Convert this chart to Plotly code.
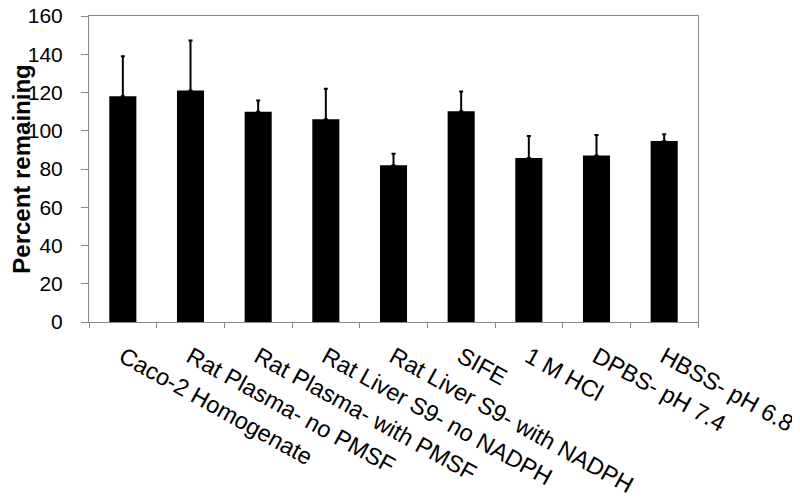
import plotly.graph_objects as go

categories = ["Caco-2 Homogenate", "Rat Plasma- no PMSF", "Rat Plasma- with PMSF",
              "Rat Liver S9- no NADPH", "Rat Liver S9- with NADPH", "SIFE",
              "1 M HCl", "DPBS- pH 7.4", "HBSS- pH 6.8"]
values = [118, 121, 110, 106, 82, 110.2, 85.7, 87, 94.6]
err_plus = [21, 26.2, 5.8, 16, 6, 10.3, 11.6, 10.8, 3.6]

fig = go.Figure(go.Bar(
    x=categories, y=values,
    marker=dict(color="black", line=dict(width=0)),
    error_y=dict(type="data", array=err_plus, arrayminus=[0]*len(values),
                 symmetric=False, color="black", thickness=2, width=2),
))

fig.update_layout(
    width=800, height=501,
    margin=dict(l=81, r=110, t=8, b=187, autoexpand=False),
    plot_bgcolor="white", paper_bgcolor="white",
    bargap=0.6, showlegend=False,
    font=dict(family="Liberation Sans, Arial, sans-serif", color="black"),
)
fig.update_xaxes(
    tickangle=29, tickfont=dict(size=23.5), ticks="outside", tickson="boundaries",
    ticklen=5, tickcolor="#888", showline=True, linecolor="#888", linewidth=1,
    mirror=True, showgrid=False, ticklabeloverflow="allow", automargin=False,
    ticklabelstandoff=11,
)
fig.update_yaxes(
    range=[0, 160], dtick=20, tickfont=dict(size=21), ticks="outside",
    ticklen=7, tickcolor="#888", showline=True, linecolor="#888", linewidth=1,
    mirror=True, showgrid=False, zeroline=False, ticklabeloverflow="allow",
    ticklabelstandoff=14, automargin=False,
    title=dict(text="<b>Percent remaining</b>", font=dict(size=24), standoff=0),
)

fig.write_html("out.html")
